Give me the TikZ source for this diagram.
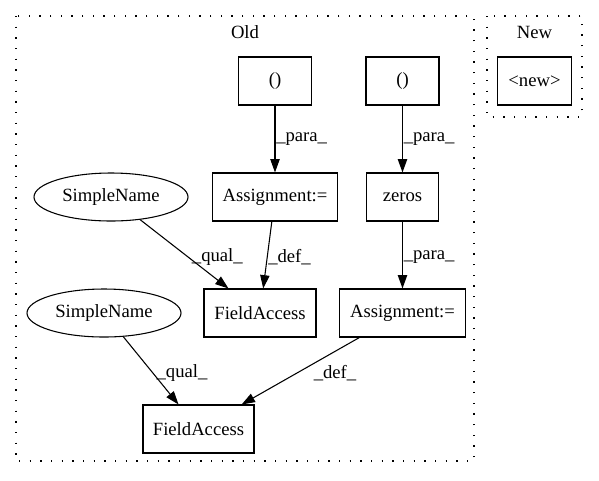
\documentclass[tikz,border=0pt]{standalone}
\usepackage{fontspec}
\setmainfont{Liberation Serif}
\usetikzlibrary{arrows.meta,shapes.geometric}
\begin{document}
\begin{tikzpicture}[x=0.75pt,y=-0.75pt,
  every node/.style={font=\fontsize{14}{16}\selectfont, inner sep=0pt},
  box/.style={draw, line width=0.8pt, minimum height=36pt},
  oval/.style={draw, ellipse, line width=0.8pt, minimum height=36pt, minimum width=115.5pt},
  cluster/.style={draw, line width=1pt, dash pattern=on 1pt off 7pt},
  edge/.style={draw, line width=0.8pt, -{Triangle[length=10pt,width=7pt]}},
  lbl/.style={inner sep=0pt}]
\useasboundingbox (0,0) rectangle (599,480);
% clusters
\draw[cluster] (16,16) rectangle (474,461);
\draw[cluster] (487,16) rectangle (582,117);
\node (oldlbl) at (245,32) {Old};
\node (newlbl) at (534.5,32) {New};
% nodes
\node[box, minimum width=56pt] (new) at (534.5,81) {<new>};
\node[box, minimum width=54.75pt] (p1) at (275,81) {()};
\node[box, minimum width=54.75pt] (p2) at (402.5,81) {()};
\node[box, minimum width=93.75pt] (as1) at (275,197) {Assignment:=};
\node[box, minimum width=54pt] (zeros) at (402.5,197) {zeros};
\node[oval] (sn1) at (111,197) {SimpleName};
\node[box, minimum width=84pt] (fa1) at (260,313) {FieldAccess};
\node[box, minimum width=95pt] (as2) at (402.5,313) {Assignment:=};
\node[oval] (sn2) at (104,313) {SimpleName};
\node[box, minimum width=83.25pt] (fa2) at (198.5,429) {FieldAccess};
% edges
\draw[edge] (p1) -- (as1);
\draw[edge] (p2) -- (zeros);
\draw[edge] (zeros) -- (as2);
\draw[edge] (as1) -- (fa1);
\draw[edge] (sn1) -- (fa1);
\draw[edge] (sn2) -- (fa2);
\draw[edge] (as2) -- (fa2);
% labels
\node[lbl, anchor=west] (l1) at (276,139) {\_para\_};
\node[lbl, anchor=west] (l2) at (403.5,139) {\_para\_};
\node[lbl, anchor=west] (l3) at (403.5,257) {\_para\_};
\node[lbl, anchor=west] (l4) at (268,257) {\_def\_};
\node[lbl, anchor=east] (l5) at (243,257) {\_qual\_};
\node[lbl] (l6) at (182,373) {\_qual\_};
\node[lbl] (l7) at (335,373) {\_def\_};
\end{tikzpicture}
\end{document}
